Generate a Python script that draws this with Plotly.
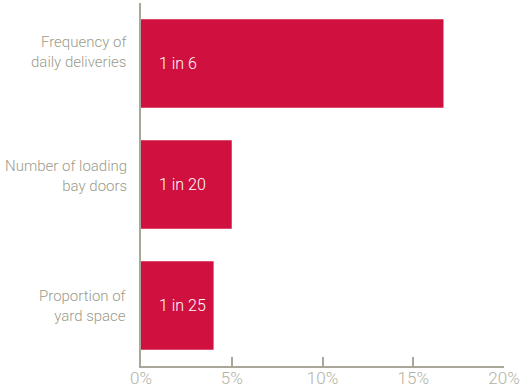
import plotly.graph_objects as go

# Share of sites affected, stated as "1 in N"
categories = ["Frequency of daily deliveries", "Number of loading bay doors", "Proportion of yard space"]
category_text = ["Frequency of<br>daily deliveries", "Number of loading<br>bay doors", "Proportion of<br>yard space"]
ratio_labels = ["1 in 6", "1 in 20", "1 in 25"]
denominators = [6, 20, 25]
values = [100.0 / d for d in denominators]  # percent

tick_vals = [0, 5, 10, 15, 20]
tick_text = ["0%", "5%", "10%", "15%", "20%"]

BAR = "#D0103F"
AXIS = "#A9A898"
LABEL = "#9C9B8B"
FONT = "Roboto"

# vertical nudges of the category captions (px)
caption_shift = [12, 9, 0]

fig = go.Figure(
    go.Bar(
        x=values,
        y=categories,
        orientation="h",
        marker=dict(color=BAR, line=dict(width=0)),
        width=0.73,
        hoverinfo="skip",
    )
)

# value labels inside the bars, near the base
for cat, lab in zip(categories, ratio_labels):
    fig.add_annotation(
        x=0, y=cat, xref="x", yref="y",
        text=lab, showarrow=False,
        xanchor="left", yanchor="middle", xshift=16,
        font=dict(family=FONT, size=16, color="white", weight=300),
    )

# category captions to the left of the axis
for cat, txt, dy in zip(categories, category_text, caption_shift):
    fig.add_annotation(
        x=0, y=cat, xref="paper", yref="y",
        text=txt, showarrow=False, align="right",
        xanchor="right", yanchor="middle", xshift=-12, yshift=dy,
        font=dict(family=FONT, size=15, color=LABEL, weight=300),
    )

fig.update_layout(
    width=522, height=387,
    margin=dict(l=141, r=18, t=3, b=21, autoexpand=False),
    plot_bgcolor="white", paper_bgcolor="white",
    showlegend=False,
    bargap=0.27,
    font=dict(family=FONT, weight=300),
)

fig.update_xaxes(
    range=[0, 20], automargin=False,
    tickvals=tick_vals, ticktext=tick_text,
    showgrid=False, zeroline=False,
    showline=True, linecolor=AXIS, linewidth=1.5,
    ticks="inside", ticklen=9, tickcolor=AXIS, tickwidth=1.5,
    ticklabelstandoff=-4,
    tickfont=dict(family=FONT, size=17, color="#B3B2A4", weight=300),
)

fig.update_yaxes(
    autorange=False, range=[2.5, -0.5], automargin=False,
    categoryorder="array", categoryarray=categories,
    showgrid=False, zeroline=False, showticklabels=False,
    showline=True, linecolor=AXIS, linewidth=1.5,
    ticks="",
)

fig.write_html("out.html")
